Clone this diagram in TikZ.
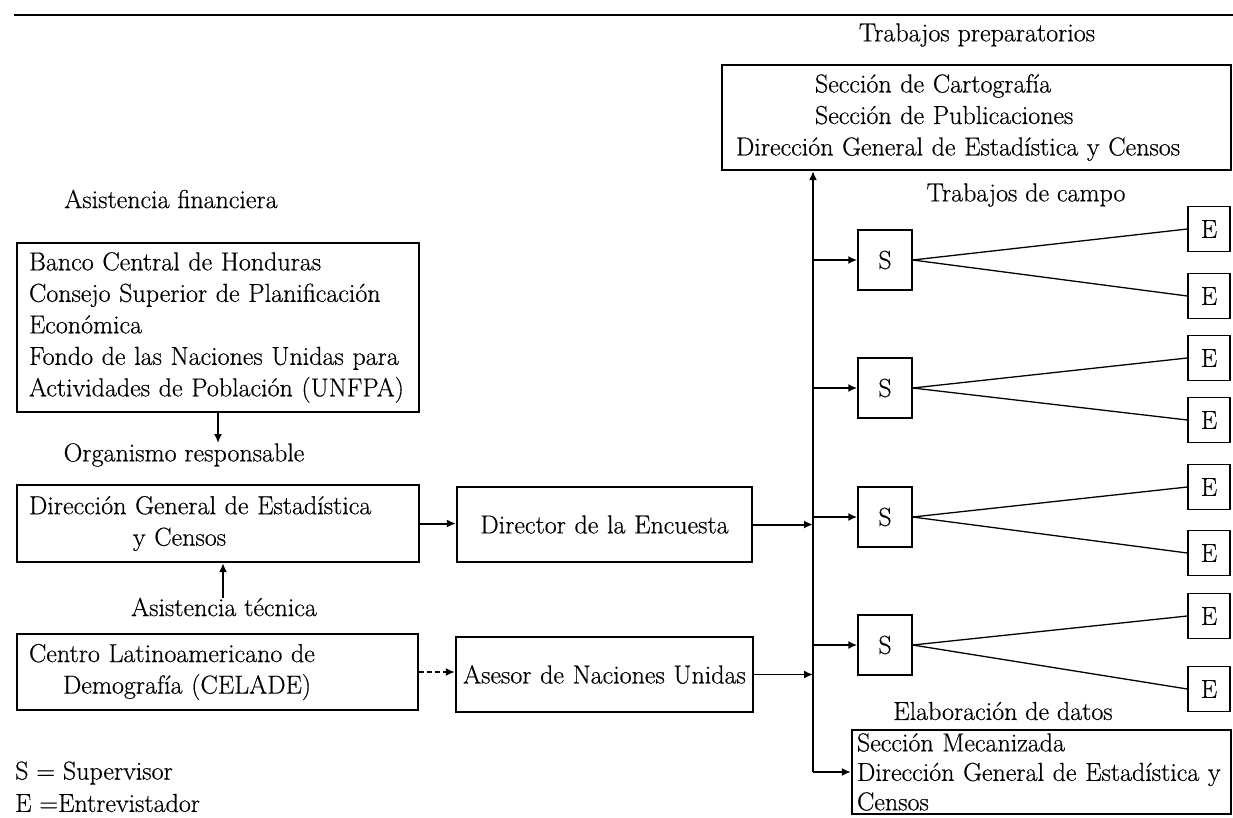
\documentclass[tikz,border=0pt]{standalone}
\usepackage{fontspec}
\setmainfont{Latin Modern Roman}[FakeBold=0.5]
\usetikzlibrary{arrows.meta}
\begin{document}
\begin{tikzpicture}[x=1pt,y=-1pt,
    every node/.style={font=\fontsize{26}{31.5}\selectfont},
    box/.style={draw,line width=2.2pt,inner ysep=0pt,align=left},
    sbox/.style={draw,line width=1.4pt,minimum width=54pt,minimum height=60pt,inner sep=0pt},
    ebox/.style={draw,line width=1.4pt,minimum width=42pt,minimum height=45pt,inner sep=0pt},
    lbl/.style={inner sep=0pt},
    arr/.style={line width=2pt,-{Latex[length=9pt,width=8pt]}},
  ]
    \useasboundingbox (0,0) rectangle (1233,818);

    % Rule at the top
    \draw[line width=2pt] (14,15) -- (1233,15);

    % Left column
    \node[lbl] (finlbl) at (171,199) {Asistencia financiera};
    \node[box,inner xsep=12pt,text width=378pt,minimum height=169pt] (fin) at (218,327.5)
        {Banco Central de Honduras\\ Consejo Superior de Planificación\\ Económica\\
         Fondo de las Naciones Unidas para\\ Actividades de Población (UNFPA)};
    \node[lbl] (orglbl) at (184,455) {Organismo responsable};
    \node[box,inner xsep=12pt,text width=378pt,minimum height=77pt] (dgec) at (218,523.5)
        {Dirección General de Estadística\\ \hspace*{104pt}y Censos};
    \node[lbl] (teclbl) at (224,607) {Asistencia técnica};
    \node[box,inner xsep=12pt,text width=377pt,minimum height=76pt] (celade) at (217.5,672)
        {Centro Latinoamericano de\\ \hspace*{34pt}Demografía (CELADE)};

    % Legend
    \node[lbl,anchor=west] (leg1) at (15,773) {S = Supervisor};
    \node[lbl,anchor=west] (leg2) at (15,803) {E =Entrevistador};

    % Middle column
    \node[box,align=center,inner xsep=6pt,text width=283pt,minimum height=75pt] (dir) at (604.5,524.5)
        {Director de la Encuesta};
    \node[box,align=center,inner xsep=3pt,text width=291pt,minimum height=75pt] (ase) at (604.5,674.5)
        {Asesor de Naciones Unidas};

    % Right column
    \node[lbl] (preplbl) at (977,35) {Trabajos preparatorios};
    \node[box,inner xsep=14pt,text width=481pt,minimum height=105pt] (prep) at (976.5,117.5)
        {\hspace*{79pt}Sección de Cartografía\\ \hspace*{79pt}Sección de Publicaciones\\
         Dirección General de Estadística y Censos};
    \node[lbl] (camlbl) at (1026,195) {Trabajos de campo};
    \node[lbl] (elalbl) at (1003,711) {Elaboración de datos};
    \node[box,inner xsep=5pt,text width=369pt,minimum height=84pt,
          font=\fontsize{26}{29.5}\selectfont] (mec) at (1041.5,772)
        {Sección Mecanizada\\ Dirección General de Estadística y\\ Censos};

    % Supervisors and interviewers
    \foreach \i/\ys/\ya/\yb in {1/260/229/296, 2/388/358/420, 3/517/487/553, 4/645/616/689} {
        \node[sbox] (s\i) at (885,\ys) {S};
        \node[ebox] (e\i a) at (1209,\ya) {E};
        \node[ebox] (e\i b) at (1209,\yb) {E};
        \draw[line width=1.3pt] (s\i.east) -- (e\i a.west);
        \draw[line width=1.3pt] (s\i.east) -- (e\i b.west);
    }

    % Connectors
    \coordinate (tbot) at (813,772);
    \draw[arr] (fin.south) -- (fin.south |- orglbl.north);
    \draw[arr] ([xshift=5pt]dgec.south |- teclbl.north) -- ([xshift=5pt]dgec.south);
    \draw[arr] (dgec.east) -- (dgec.east -| dir.west);
    \draw[arr,dash pattern=on 5pt off 3pt] (celade.east) -- (celade.east -| ase.west);
    \draw[arr] (tbot) -- (tbot |- prep.south);
    \draw[arr] (tbot) -- (mec.west);
    \draw[arr] (dir.east) -- (dir.east -| tbot);
    \draw[arr,line width=1.6pt] (ase.east) -- (ase.east -| tbot);
    \foreach \i in {1,...,4}
        \draw[arr] (tbot |- s\i.west) -- (s\i.west);

\end{tikzpicture}
\end{document}
